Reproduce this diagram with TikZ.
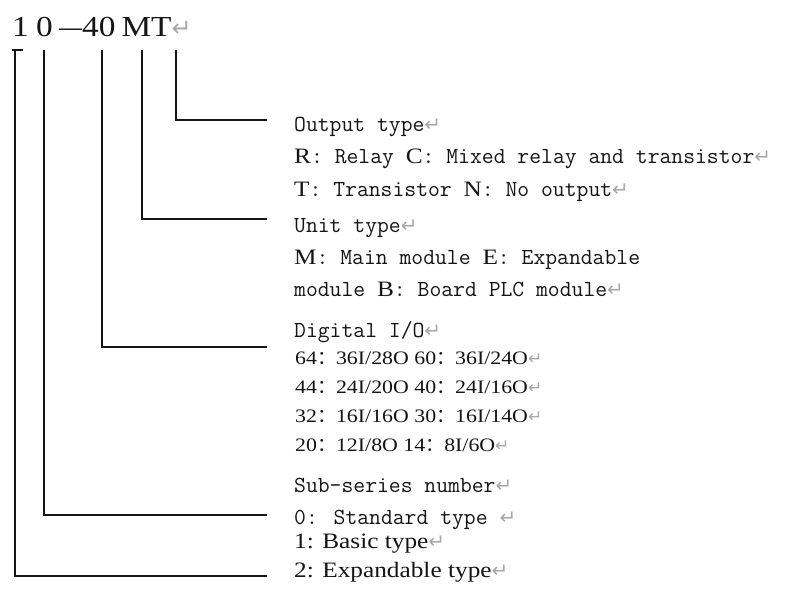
\documentclass[tikz,border=0pt]{standalone}
\usepackage{fontspec}
\usepackage{graphicx}
\setmainfont{Liberation Serif}
\newfontfamily\wserif[FakeStretch=1.15]{Liberation Serif}
\newfontfamily\dejavu{DejaVu Sans}
\newfontfamily\cjk{Noto Sans CJK SC}
\definecolor{retgray}{HTML}{A8A8A8}
\definecolor{ink}{HTML}{151515}
\newcommand\pil[1][20]{{\dejavu\fontsize{#1}{#1}\selectfont\color{retgray}↵}}
\newcommand\tcap[1]{{\wserif\fontsize{22}{22}\selectfont #1}}
\newcommand\fc{{\cjk ：}}
\tikzset{
  conn/.style={draw=ink, line width=1.6pt},
  titletext/.style={anchor=base west, inner sep=0pt, text=ink, font=\wserif\fontsize{29}{29}\selectfont},
  monotext/.style={anchor=base west, inner sep=0pt, text=ink, font=\ttfamily\fontsize{23}{23}\selectfont},
  digittext/.style={anchor=base west, inner sep=0pt, text=ink, font=\wserif\fontsize{19}{19}\selectfont},
  seriftext/.style={anchor=base west, inner sep=0pt, text=ink, font=\wserif\fontsize{22}{22}\selectfont},
}
\begin{document}
\begin{tikzpicture}[x=1pt,y=-1pt]
\useasboundingbox (0,0) rectangle (785,589);
% title
\node[titletext] (code) at (12,36) {\makebox[24pt][l]{1}\makebox[23pt][l]{0}\makebox[23pt][l]{\scalebox{0.69}[1]{—}}40\hspace{6pt}MT\pil[24]};
% line tops and free ends
\coordinate (t1) at (15,50);
\coordinate (cap1) at (23,50);
\coordinate (cap0) at (12,50);
\coordinate (t2) at (44,50);
\coordinate (t3) at (102,50);
\coordinate (t4) at (142,50);
\coordinate (t5) at (176,50);
\coordinate (e1) at (267,576);
\coordinate (e2) at (267,515);
\coordinate (e3) at (267,347);
\coordinate (e4) at (267,219);
\coordinate (e5) at (267,120);
\draw[conn] (cap0) -- (cap1);
\draw[conn] (t1) |- (e1);
\draw[conn] (t2) |- (e2);
\draw[conn] (t3) |- (e3);
\draw[conn] (t4) |- (e4);
\draw[conn] (t5) |- (e5);
% output type
\node[monotext] (out) at (294,131) {Output type\pil};
\node[monotext] (outR) at (294,163) {\tcap{R}: Relay \tcap{C}: Mixed relay and transistor\pil};
\node[monotext] (outT) at (294,196) {\tcap{T}: Transistor \tcap{N}: No output\pil};
% unit type
\node[monotext] (unit) at (294,232) {Unit type\pil};
\node[monotext] (unitM) at (294,264) {\tcap{M}: Main module \tcap{E}: Expandable};
\node[monotext] (unitB) at (294,296) {module \tcap{B}: Board PLC module\pil};
% digital I/O
\node[monotext] (dig) at (294,337) {Digital I/O\pil};
\node[digittext] (d1) at (295,364) {64\fc36I/28O 60\fc36I/24O\pil[17]};
\node[digittext] (d2) at (295,393) {44\fc24I/20O 40\fc24I/16O\pil[17]};
\node[digittext] (d3) at (295,422) {32\fc16I/16O 30\fc16I/14O\pil[17]};
\node[digittext] (d4) at (295,451) {20\fc12I/8O 14\fc8I/6O\pil[17]};
% sub-series
\node[monotext] (sub) at (294,492) {Sub-series number\pil};
\node[monotext] (sub0) at (294,524) {0: Standard type \pil};
\node[seriftext] (sub1) at (294,548) {1: Basic type\pil};
\node[seriftext] (sub2) at (294,577) {2: Expandable type\pil};
\end{tikzpicture}
\end{document}
